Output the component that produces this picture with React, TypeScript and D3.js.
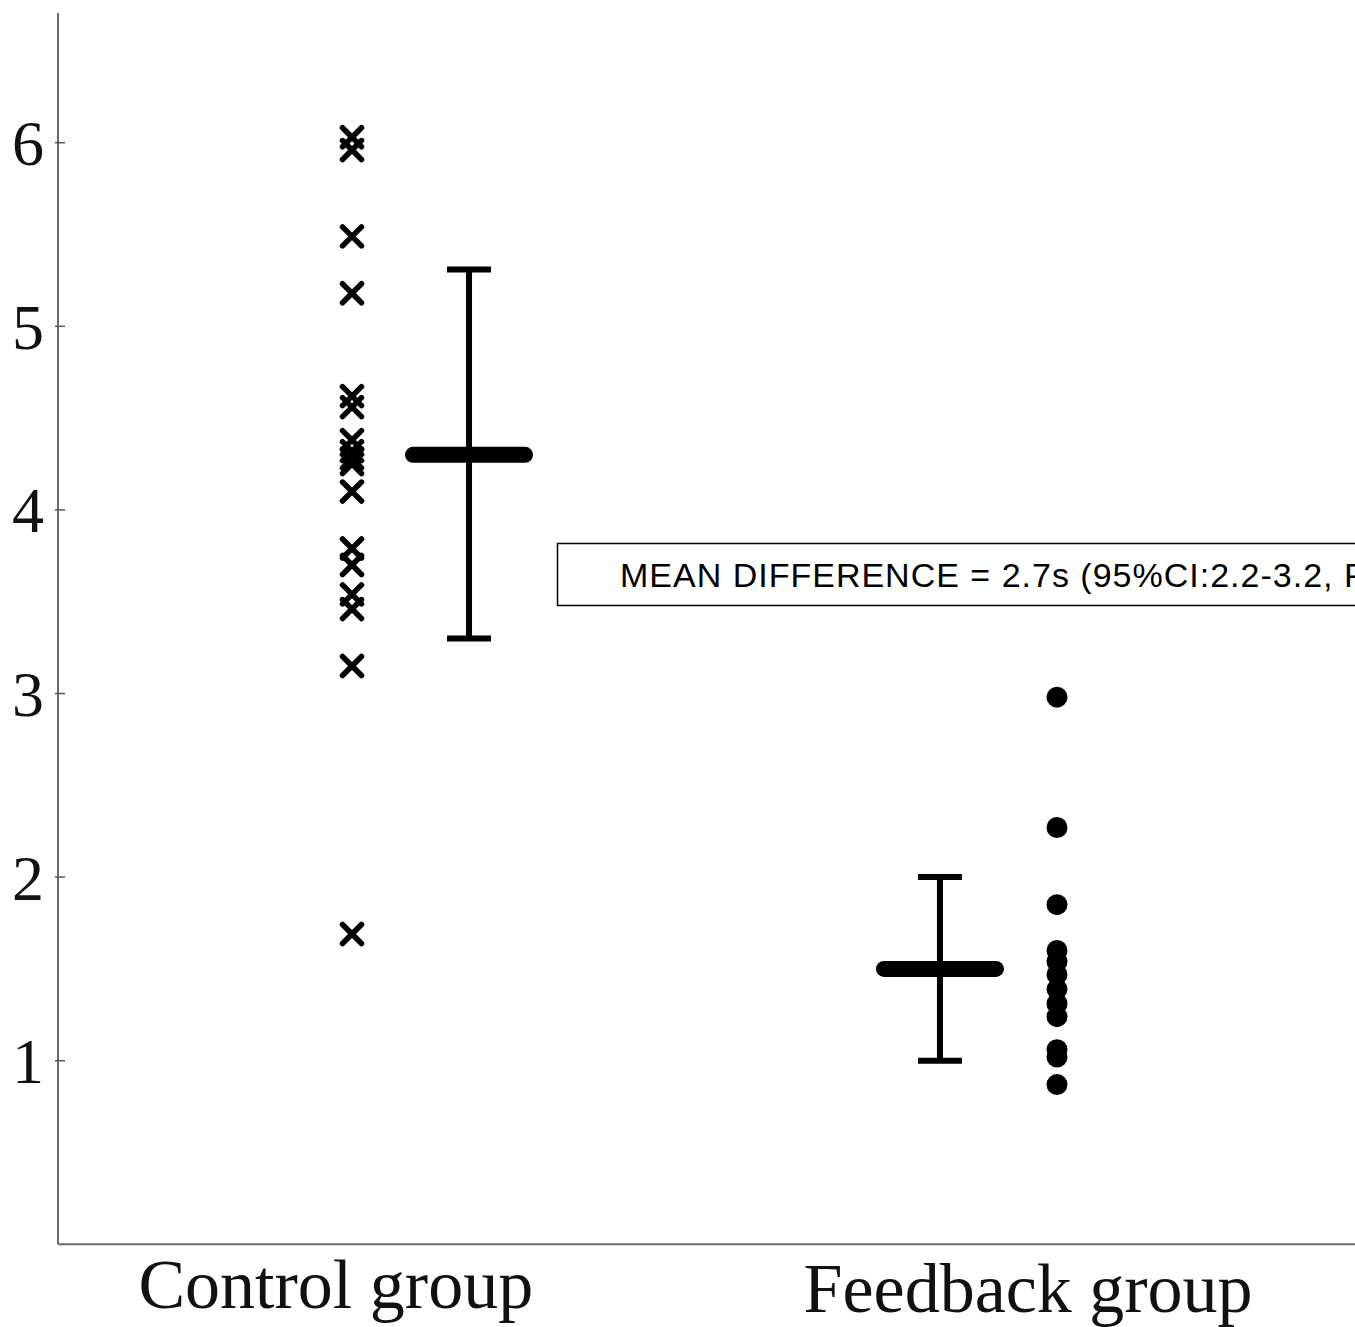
import React from "react";
import * as d3 from "d3";

const groups = ["Control group", "Feedback group"];
const controlValues = [6.03, 5.96, 5.49, 5.18, 4.62, 4.56, 4.38, 4.32, 4.28, 4.25, 4.1, 3.79, 3.7, 3.54, 3.46, 3.15, 1.69];
const feedbackValues = [2.98, 2.27, 1.85, 1.6, 1.54, 1.47, 1.39, 1.31, 1.24, 1.06, 1.02, 0.87];
const summaries = [
  { group: 0, mean: 4.3, lo: 3.3, hi: 5.31 },
  { group: 1, mean: 1.5, lo: 1.0, hi: 2.0 },
];
const yTicks = [1, 2, 3, 4, 5, 6];
const annotation = "MEAN DIFFERENCE = 2.7s (95%CI:2.2-3.2, P<0.001)";

const W = 1355;
const H = 1327;

export default function App() {
  const y = d3.scaleLinear().domain([0, 6.7]).range([1244.3, 14.2]);
  const x = d3.scaleLinear().domain([0, 1]).range([352, 1057]);
  const axisX = 58;
  const axisY = y(0);
  const summaryOffset = [0.166, -0.166];
  const labelX = [-0.023, 0.959];
  const serif = "'Liberation Serif', 'Times New Roman', serif";

  const cross = (cx: number, cy: number, k: number) => {
    const a = 9.5;
    return (
      <g key={k} stroke="#000" strokeWidth={5.5} strokeLinecap="round">
        <line x1={cx - a} y1={cy - a} x2={cx + a} y2={cy + a} />
        <line x1={cx - a} y1={cy + a} x2={cx + a} y2={cy - a} />
      </g>
    );
  };

  return (
    <svg
      width={W}
      height={H}
      style={{ position: "absolute", left: 0, top: 0, background: "#fff" }}
    >
      <rect x={0} y={0} width={W} height={H} fill="#fff" />
      {/* axes */}
      <line x1={axisX} y1={13} x2={axisX} y2={axisY} stroke="#6b6b6b" strokeWidth={2} />
      <line x1={axisX} y1={axisY} x2={W} y2={axisY} stroke="#6b6b6b" strokeWidth={2} />
      {yTicks.map((t) => (
        <g key={t}>
          <line x1={axisX - 3} x2={axisX + 7} y1={y(t)} y2={y(t)} stroke="#555" strokeWidth={1.5} />
          <text
            x={44}
            y={y(t)}
            dy="0.35em"
            textAnchor="end"
            fontFamily={serif}
            fontSize={64}
            fill="#111"
          >
            {t}
          </text>
        </g>
      ))}
      {groups.map((g, i) => (
        <text
          key={g}
          x={x(labelX[i])}
          y={i === 0 ? 1308 : 1312}
          textAnchor="middle"
          fontFamily={serif}
          fontSize={70}
          fill="#111"
        >
          {g}
        </text>
      ))}
      {/* control crosses */}
      {controlValues.map((v, i) => cross(x(0), y(v), i))}
      {/* feedback dots */}
      {feedbackValues.map((v, i) => (
        <circle key={i} cx={x(1)} cy={y(v)} r={10.5} fill="#000" />
      ))}
      {/* mean and CI */}
      {summaries.map((s) => {
        const cx = x(s.group + summaryOffset[s.group]);
        return (
          <g key={s.group} stroke="#000">
            <line x1={cx} x2={cx} y1={y(s.hi)} y2={y(s.lo)} strokeWidth={6} />
            <line x1={cx - 22} x2={cx + 22} y1={y(s.hi)} y2={y(s.hi)} strokeWidth={6} />
            <line x1={cx - 22} x2={cx + 22} y1={y(s.lo)} y2={y(s.lo)} strokeWidth={6} />
            <line x1={cx - 56} x2={cx + 56} y1={y(s.mean)} y2={y(s.mean)} strokeWidth={16} strokeLinecap="round" />
          </g>
        );
      })}
      {/* annotation box */}
      <rect x={557.5} y={543.5} width={900} height={62} fill="#fff" stroke="#000" strokeWidth={1.5} />
      <text
        x={620}
        y={587}
        fontFamily="'Liberation Sans', Arial, sans-serif"
        fontSize={34}
        letterSpacing={1}
        fill="#000"
      >
        {annotation}
      </text>
    </svg>
  );
}
